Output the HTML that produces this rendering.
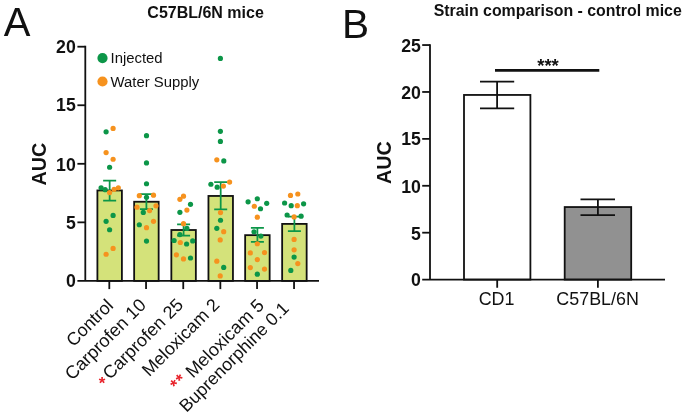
<!DOCTYPE html>
<html lang="en"><head><meta charset="utf-8"><title>Figure</title>
<style>
html,body{margin:0;padding:0;background:#fff;}
body{width:685px;height:417px;overflow:hidden;}
svg{display:block;}
text{font-family:"Liberation Sans",Arial,Helvetica,sans-serif;fill:#111111;}
.b{font-weight:bold;}
</style></head><body>
<svg width="685" height="417" viewBox="0 0 685 417">
<rect width="685" height="417" fill="#fff"/>
<g id="panelA">
<text x="3.7" y="35.5" font-size="40">A</text>
<text class="b" x="205.6" y="17.6" font-size="16" text-anchor="middle">C57BL/6N mice</text>
<text class="b" font-size="19.7" text-anchor="middle" transform="translate(45.6,164.2) rotate(-90)">AUC</text>
<rect x="97.40" y="190.45" width="24.5" height="90.45" fill="#d4e27a" stroke="#111111" stroke-width="1.8"/>
<rect x="134.15" y="201.75" width="24.5" height="79.15" fill="#d4e27a" stroke="#111111" stroke-width="1.8"/>
<rect x="171.35" y="230.00" width="24.5" height="50.90" fill="#d4e27a" stroke="#111111" stroke-width="1.8"/>
<rect x="208.45" y="195.95" width="24.5" height="84.95" fill="#d4e27a" stroke="#111111" stroke-width="1.8"/>
<rect x="245.15" y="235.15" width="24.5" height="45.75" fill="#d4e27a" stroke="#111111" stroke-width="1.8"/>
<rect x="282.15" y="223.90" width="24.5" height="57.00" fill="#d4e27a" stroke="#111111" stroke-width="1.8"/>
<path d="M85.3 45.80V280.9M77.4 280.9H319" stroke="#111111" stroke-width="1.8" fill="none"/>
<path d="M77.4 222.35H85.3" stroke="#111111" stroke-width="1.8"/>
<path d="M77.4 163.80H85.3" stroke="#111111" stroke-width="1.8"/>
<path d="M77.4 105.25H85.3" stroke="#111111" stroke-width="1.8"/>
<path d="M77.4 46.70H85.3" stroke="#111111" stroke-width="1.8"/>
<text class="b" x="75.8" y="287.34" font-size="17.7" text-anchor="end">0</text>
<text class="b" x="75.8" y="228.69" font-size="17.7" text-anchor="end">5</text>
<text class="b" x="75.8" y="170.54" font-size="17.7" text-anchor="end">10</text>
<text class="b" x="75.8" y="111.39" font-size="17.7" text-anchor="end">15</text>
<text class="b" x="75.8" y="53.14" font-size="17.7" text-anchor="end">20</text>
<path d="M109.30 280.9V289.1" stroke="#111111" stroke-width="1.8"/>
<path d="M146.05 280.9V289.1" stroke="#111111" stroke-width="1.8"/>
<path d="M183.25 280.9V289.1" stroke="#111111" stroke-width="1.8"/>
<path d="M220.35 280.9V289.1" stroke="#111111" stroke-width="1.8"/>
<path d="M257.05 280.9V289.1" stroke="#111111" stroke-width="1.8"/>
<path d="M294.05 280.9V289.1" stroke="#111111" stroke-width="1.8"/>
<path d="M109.65 180.54999999999998V200.54999999999998M103.15 180.54999999999998h13M103.15 200.54999999999998h13" stroke="#0c9648" stroke-width="1.75" fill="none"/>
<path d="M146.40 194.05V209.05M139.90 194.05h13M139.90 209.05h13" stroke="#0c9648" stroke-width="1.75" fill="none"/>
<path d="M183.60 224.4V235.7M177.10 224.4h13M177.10 235.7h13" stroke="#0c9648" stroke-width="1.75" fill="none"/>
<path d="M220.70 182.05V209.35M214.20 182.05h13M214.20 209.35h13" stroke="#0c9648" stroke-width="1.75" fill="none"/>
<path d="M257.40 227.85V241.95M250.90 227.85h13M250.90 241.95h13" stroke="#0c9648" stroke-width="1.75" fill="none"/>
<path d="M294.40 216.6V231.20000000000002M287.90 216.6h13M287.90 231.20000000000002h13" stroke="#0c9648" stroke-width="1.75" fill="none"/>
<circle cx="113.1" cy="128.45" r="2.6" fill="#f6921e"/>
<circle cx="106.1" cy="131.85" r="2.6" fill="#0c9648"/>
<circle cx="106.1" cy="152.55" r="2.6" fill="#f6921e"/>
<circle cx="113.1" cy="159.25" r="2.6" fill="#f6921e"/>
<circle cx="109.6" cy="167.25" r="2.6" fill="#0c9648"/>
<circle cx="101.1" cy="187.85" r="2.6" fill="#0c9648"/>
<circle cx="105.2" cy="189.65" r="2.6" fill="#0c9648"/>
<circle cx="109.6" cy="192.55" r="2.6" fill="#f6921e"/>
<circle cx="114.1" cy="189.35" r="2.6" fill="#f6921e"/>
<circle cx="118.3" cy="187.85" r="2.6" fill="#f6921e"/>
<circle cx="113.1" cy="215.45" r="2.6" fill="#0c9648"/>
<circle cx="106.1" cy="221.35" r="2.6" fill="#0c9648"/>
<circle cx="109.6" cy="229.75" r="2.6" fill="#0c9648"/>
<circle cx="113.1" cy="248.45" r="2.6" fill="#f6921e"/>
<circle cx="106.1" cy="254.25" r="2.6" fill="#f6921e"/>
<circle cx="146.5" cy="135.65" r="2.6" fill="#0c9648"/>
<circle cx="146.5" cy="162.95" r="2.6" fill="#0c9648"/>
<circle cx="146.5" cy="183.75" r="2.6" fill="#0c9648"/>
<circle cx="139.3" cy="195.65" r="2.6" fill="#f6921e"/>
<circle cx="153.5" cy="195.15" r="2.6" fill="#f6921e"/>
<circle cx="146.5" cy="197.35" r="2.6" fill="#0c9648"/>
<circle cx="137.0" cy="207.15" r="2.6" fill="#f6921e"/>
<circle cx="156.0" cy="205.85" r="2.6" fill="#f6921e"/>
<circle cx="149.6" cy="210.55" r="2.6" fill="#f6921e"/>
<circle cx="143.3" cy="212.45" r="2.6" fill="#0c9648"/>
<circle cx="153.5" cy="221.35" r="2.6" fill="#f6921e"/>
<circle cx="139.3" cy="224.75" r="2.6" fill="#0c9648"/>
<circle cx="146.5" cy="227.65" r="2.6" fill="#f6921e"/>
<circle cx="146.5" cy="241.05" r="2.6" fill="#0c9648"/>
<circle cx="183.5" cy="196.2" r="2.6" fill="#f6921e"/>
<circle cx="179.9" cy="199.3" r="2.6" fill="#f6921e"/>
<circle cx="190.5" cy="204.3" r="2.6" fill="#0c9648"/>
<circle cx="186.9" cy="210.1" r="2.6" fill="#f6921e"/>
<circle cx="179.9" cy="212.3" r="2.6" fill="#0c9648"/>
<circle cx="183.5" cy="223.7" r="2.6" fill="#f6921e"/>
<circle cx="186.9" cy="228.4" r="2.6" fill="#0c9648"/>
<circle cx="179.9" cy="234.6" r="2.6" fill="#0c9648"/>
<circle cx="174.1" cy="240.5" r="2.6" fill="#0c9648"/>
<circle cx="180.3" cy="242.5" r="2.6" fill="#f6921e"/>
<circle cx="192.7" cy="240.9" r="2.6" fill="#0c9648"/>
<circle cx="186.6" cy="244.0" r="2.6" fill="#0c9648"/>
<circle cx="176.4" cy="254.8" r="2.6" fill="#f6921e"/>
<circle cx="183.5" cy="258.9" r="2.6" fill="#f6921e"/>
<circle cx="190.5" cy="258.0" r="2.6" fill="#0c9648"/>
<circle cx="220.4" cy="58.45" r="2.6" fill="#0c9648"/>
<circle cx="220.4" cy="131.35" r="2.6" fill="#0c9648"/>
<circle cx="220.4" cy="141.45" r="2.6" fill="#0c9648"/>
<circle cx="216.8" cy="159.85" r="2.6" fill="#f6921e"/>
<circle cx="223.8" cy="160.95" r="2.6" fill="#0c9648"/>
<circle cx="229.6" cy="182.05" r="2.6" fill="#f6921e"/>
<circle cx="210.9" cy="184.25" r="2.6" fill="#0c9648"/>
<circle cx="217.2" cy="187.15" r="2.6" fill="#0c9648"/>
<circle cx="223.4" cy="186.05" r="2.6" fill="#f6921e"/>
<circle cx="220.5" cy="212.55" r="2.6" fill="#f6921e"/>
<circle cx="220.5" cy="220.25" r="2.6" fill="#0c9648"/>
<circle cx="216.8" cy="228.35" r="2.6" fill="#0c9648"/>
<circle cx="223.7" cy="231.65" r="2.6" fill="#f6921e"/>
<circle cx="220.2" cy="239.95" r="2.6" fill="#f6921e"/>
<circle cx="216.8" cy="261.15" r="2.6" fill="#f6921e"/>
<circle cx="223.7" cy="267.45" r="2.6" fill="#0c9648"/>
<circle cx="220.2" cy="275.95" r="2.6" fill="#f6921e"/>
<circle cx="248.1" cy="201.85" r="2.6" fill="#0c9648"/>
<circle cx="257.3" cy="198.75" r="2.6" fill="#0c9648"/>
<circle cx="266.7" cy="203.35" r="2.6" fill="#0c9648"/>
<circle cx="254.3" cy="206.25" r="2.6" fill="#f6921e"/>
<circle cx="260.5" cy="208.75" r="2.6" fill="#0c9648"/>
<circle cx="257.3" cy="217.15" r="2.6" fill="#f6921e"/>
<circle cx="254.0" cy="231.75" r="2.6" fill="#0c9648"/>
<circle cx="260.9" cy="236.05" r="2.6" fill="#0c9648"/>
<circle cx="257.3" cy="243.75" r="2.6" fill="#f6921e"/>
<circle cx="250.3" cy="252.95" r="2.6" fill="#f6921e"/>
<circle cx="264.5" cy="252.55" r="2.6" fill="#f6921e"/>
<circle cx="257.3" cy="259.55" r="2.6" fill="#f6921e"/>
<circle cx="250.3" cy="267.55" r="2.6" fill="#f6921e"/>
<circle cx="264.5" cy="269.05" r="2.6" fill="#f6921e"/>
<circle cx="257.3" cy="274.15" r="2.6" fill="#0c9648"/>
<circle cx="290.5" cy="195.4" r="2.6" fill="#f6921e"/>
<circle cx="297.8" cy="194.0" r="2.6" fill="#f6921e"/>
<circle cx="284.6" cy="203.0" r="2.6" fill="#0c9648"/>
<circle cx="291.2" cy="205.7" r="2.6" fill="#0c9648"/>
<circle cx="297.3" cy="205.7" r="2.6" fill="#f6921e"/>
<circle cx="303.6" cy="203.8" r="2.6" fill="#0c9648"/>
<circle cx="287.1" cy="215.0" r="2.6" fill="#0c9648"/>
<circle cx="294.1" cy="216.9" r="2.6" fill="#f6921e"/>
<circle cx="301.1" cy="216.2" r="2.6" fill="#0c9648"/>
<circle cx="294.1" cy="239.4" r="2.6" fill="#f6921e"/>
<circle cx="294.1" cy="249.8" r="2.6" fill="#f6921e"/>
<circle cx="294.1" cy="257.1" r="2.6" fill="#0c9648"/>
<circle cx="297.8" cy="263.6" r="2.6" fill="#f6921e"/>
<circle cx="290.8" cy="270.4" r="2.6" fill="#0c9648"/>
<circle cx="102.5" cy="58.1" r="5.1" fill="#0c9648"/><text transform="translate(110.5,63) scale(0.9675,1)" font-size="15.4">Injected</text>
<circle cx="102.5" cy="81.5" r="5.1" fill="#f6921e"/><text transform="translate(110.5,86.5) scale(0.9675,1)" font-size="15.4">Water Supply</text>
<text font-size="17.9" text-anchor="end" transform="translate(114.25,306.60) rotate(-45)">Control</text>
<text font-size="18.15" text-anchor="end" transform="translate(147.10,306.20) rotate(-45)">Carprofen 10</text>
<text font-size="18.0" text-anchor="end" transform="translate(184.30,305.90) rotate(-45)">Carprofen 25</text>
<text font-size="18.0" text-anchor="end" transform="translate(220.60,305.90) rotate(-45)">Meloxicam 2</text>
<text font-size="18.2" text-anchor="end" transform="translate(265.10,306.60) rotate(-45)">Meloxicam 5</text>
<text font-size="17.8" text-anchor="end" transform="translate(290.00,309.60) rotate(-45)">Buprenorphine 0.1</text>
<text class="b" x="102" y="388.7" font-size="17" text-anchor="middle" style="fill:#e8232b">*</text>
<text class="b" font-size="17.5" letter-spacing="0.9" text-anchor="middle" transform="translate(182.7,386.1) rotate(-45)" style="fill:#e8232b">**</text>
</g>
<g id="panelB">
<text x="342.1" y="38.45" font-size="40.6">B</text>
<text class="b" x="557.7" y="16" font-size="15.9" text-anchor="middle">Strain comparison - control mice</text>
<text class="b" font-size="19.7" text-anchor="middle" transform="translate(390.6,162.7) rotate(-90)">AUC</text>
<rect x="464" y="94.95" width="66.4" height="184.65" fill="#fff" stroke="#111111" stroke-width="1.8"/>
<rect x="564.7" y="207.05" width="66.5" height="72.55" fill="#919191" stroke="#111111" stroke-width="1.8"/>
<path d="M430 44.15V279.6M422.2 279.6H665" stroke="#111111" stroke-width="1.8" fill="none"/>
<path d="M422.2 232.69H430" stroke="#111111" stroke-width="1.8"/>
<path d="M422.2 185.78H430" stroke="#111111" stroke-width="1.8"/>
<path d="M422.2 138.87H430" stroke="#111111" stroke-width="1.8"/>
<path d="M422.2 91.96H430" stroke="#111111" stroke-width="1.8"/>
<path d="M422.2 45.05H430" stroke="#111111" stroke-width="1.8"/>
<text class="b" x="420.9" y="286.44" font-size="17.7" text-anchor="end">0</text>
<text class="b" x="420.9" y="239.63" font-size="17.7" text-anchor="end">5</text>
<text class="b" x="420.9" y="192.82" font-size="17.7" text-anchor="end">10</text>
<text class="b" x="420.9" y="144.71" font-size="17.7" text-anchor="end">15</text>
<text class="b" x="420.9" y="98.50" font-size="17.7" text-anchor="end">20</text>
<text class="b" x="420.9" y="51.79" font-size="17.7" text-anchor="end">25</text>
<path d="M497.2 279.6V287.8M597.9 279.6V287.8" stroke="#111111" stroke-width="1.8"/>
<path d="M497.1 81.7V108.4M480 81.7H514.2M480 108.4H514.2" stroke="#111111" stroke-width="1.8" fill="none"/>
<path d="M597.9 199.3V215.05M580.5 199.3H615M580.5 215.05H615" stroke="#111111" stroke-width="1.8" fill="none"/>
<path d="M495 70.4H599.3" stroke="#111111" stroke-width="2.9"/>
<text class="b" x="548" y="71.5" font-size="18.5" text-anchor="middle">***</text>
<text x="496.6" y="305.3" font-size="17.9" text-anchor="middle">CD1</text>
<text x="597.6" y="305.3" font-size="17.9" text-anchor="middle">C57BL/6N</text>
</g>
</svg>
</body></html>
